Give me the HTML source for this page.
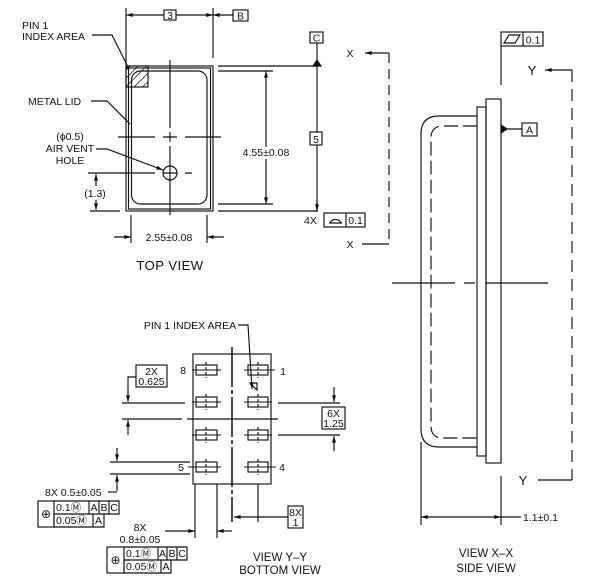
<!DOCTYPE html>
<html><head><meta charset="utf-8"><style>
html,body{margin:0;padding:0;background:#fff;}
svg{display:block;}
text{font-family:"Liberation Sans",sans-serif;font-size:10.5px;fill:#111;}
</style></head><body>
<svg width="606" height="582" viewBox="0 0 606 582" xmlns="http://www.w3.org/2000/svg">
<defs>
<marker id="a" viewBox="0 0 10 6" refX="10" refY="3" markerWidth="8" markerHeight="4" orient="auto-start-reverse" markerUnits="userSpaceOnUse"><path d="M0,0L10,3L0,6z" fill="#111"/></marker>
<pattern id="h" width="6" height="6" patternUnits="userSpaceOnUse" patternTransform="rotate(45)"><line x1="0" y1="0" x2="0" y2="6" stroke="#111" stroke-width="1.4"/></pattern>
</defs>
<g stroke="#111" stroke-width="1.15" fill="none">
<!-- TOP VIEW -->
<rect x="126" y="66" width="87" height="145"/>
<rect x="128.5" y="68" width="82" height="141"/>
<rect x="131.5" y="71" width="75.5" height="133" rx="9"/>
<rect x="126" y="66" width="22" height="21" fill="url(#h)"/>
<path d="M118 137H155M163 137H177M185 137H221"/>
<path d="M170 60V128M170 132V142M170 146V215"/>
<path d="M88 173H155M163 173H177M185 173H192"/>
<circle cx="170" cy="173" r="7"/>
<!-- top dim 3 -->
<path d="M126 8V65M213 8V58"/>
<path d="M126 15H164M176 15H213" marker-start="url(#a)" marker-end="url(#a)"/>
<rect x="164" y="10" width="12" height="10"/>
<path d="M213 15H233" marker-start="url(#a)"/>
<rect x="233" y="10" width="15" height="11"/>
<!-- right dims -->
<path d="M218 66H318M218 71H273M218 204H273M218 211H318"/>
<path d="M266 71V204" marker-start="url(#a)" marker-end="url(#a)"/>
<rect x="310" y="32" width="13" height="11"/>
<path d="M317 43V211"/>
<path d="M313 66L317 60L321 66Z" fill="#111"/>
<path d="M317 200V211" marker-end="url(#a)"/>
<rect x="310" y="132" width="12" height="13" fill="#fff"/>
<rect x="324" y="213" width="41" height="14"/><path d="M346 213V227"/>
<path d="M329 223H342M330 223A6 6 0 0 1 341 223"/>
<!-- X lines -->
<path d="M365 53H389M362 244H389" marker-start="url(#a)"/>
<path d="M389 53V244" stroke-dasharray="10,6"/>
<!-- bottom dim -->
<path d="M131 215V243M207 215V243"/>
<path d="M114 237H131" marker-end="url(#a)"/><path d="M224 237H207" marker-end="url(#a)"/>
<!-- 1.3 -->
<path d="M90 211H120"/>
<path d="M96 186V174" marker-end="url(#a)"/><path d="M96 200V210" marker-end="url(#a)"/>
<!-- leaders -->
<path d="M92 35H112L128 67"/>
<path d="M91 101H107L130 124"/>
<path d="M96 149H107L163 170" marker-end="url(#a)"/>

<!-- BOTTOM VIEW -->
<rect x="193" y="354" width="78" height="130"/>
<path d="M232 347V522" stroke-width="1.5" stroke-dasharray="40,3,4,3"/>
<path d="M122 419H182M187 419H278"/>
<g>
<rect x="196" y="365" width="21" height="10"/><rect x="248" y="365" width="20" height="10"/>
<rect x="196" y="397" width="21" height="10"/><rect x="248" y="397" width="20" height="10"/>
<rect x="196" y="430" width="21" height="10"/><rect x="248" y="430" width="20" height="10"/>
<rect x="196" y="462" width="21" height="10"/><rect x="248" y="462" width="20" height="10"/>
</g>
<path d="M192 370H221M244 370H275M192 402H221M244 402H272M192 435H221M244 435H272M188 467H221M244 467H276" stroke-width="0.9"/>
<path d="M206 362V378M258 362V378M206 394V410M258 394V410M206 427V443M258 427V443M206 459V475M258 459V475" stroke-dasharray="3,2"/>
<!-- pin1 leader -->
<path d="M238 325H248L252 389" marker-end="url(#a)"/>
<path d="M250 383L257 390L257 383Z"/>
<!-- left dims -->
<path d="M122 403H185"/>
<rect x="136" y="365" width="31" height="22"/>
<path d="M136 377H128V402" marker-end="url(#a)"/>
<path d="M128 435V420" marker-end="url(#a)"/>
<!-- right dims -->
<path d="M278 403H340M278 435H340"/>
<path d="M334 387V402" marker-end="url(#a)"/><path d="M334 451V436" marker-end="url(#a)"/>
<rect x="322" y="407" width="23" height="22" fill="#fff"/>
<!-- lower left -->
<path d="M110 462H190M110 474H190"/>
<path d="M117 448V461" marker-end="url(#a)"/><path d="M117 491V475" marker-end="url(#a)"/>
<path d="M108 492H117"/>
<rect x="38" y="501" width="16" height="26"/>
<path d="M54 501H119V514H54M54 514V527H104V514M89 501V514M99 501V514M109 501V514M93 514V527"/>
<!-- bottom dims -->
<path d="M195 484V538M217 484V538M258 484V522"/>
<path d="M165 531H195" marker-end="url(#a)"/><path d="M232 531H217" marker-end="url(#a)"/>
<path d="M258 517H234" marker-end="url(#a)"/><path d="M258 517H288"/>
<rect x="288" y="506" width="15" height="22"/>
<rect x="107" y="547" width="17" height="26"/>
<path d="M124 547H187V560H124M124 560V573H171V560M158 547V560M167 547V560M177 547V560M161 560V573"/>

<!-- SIDE VIEW -->
<rect x="486" y="99" width="15" height="364"/>
<rect x="477" y="107" width="9" height="349"/>
<path d="M477 116H439Q421 116 421 134V429Q421 447 439 447H477"/>
<path d="M477 126H443Q431 126 431 138V426Q431 438 443 438H477" stroke-dasharray="14,5"/>
<path d="M392 283H455M464 283H475M486 283H548"/>
<path d="M501 129H522"/><path d="M501 125L507 129L501 133Z" fill="#111"/>
<rect x="522" y="123" width="15" height="13"/>
<rect x="501" y="32" width="42" height="14"/><path d="M523 32V46"/>
<path d="M504 43L509 35H520L515 43Z"/>
<path d="M501 46V85"/>
<path d="M545 70H572M538 480H572" marker-start="url(#a)"/>
<path d="M572 70V480" stroke-dasharray="12,7"/>
<path d="M421 442V525M501 476V525"/>
<path d="M421 517H501" marker-start="url(#a)" marker-end="url(#a)"/>
<path d="M501 517H521"/>
</g>
<g fill="#111" stroke="none">
<circle cx="128" cy="68" r="1.5"/>
</g>

<!-- TEXT -->
<text x="22" y="29">PIN 1</text>
<text x="22" y="40">INDEX AREA</text>
<text x="28" y="105">METAL LID</text>
<text x="70" y="140" text-anchor="middle">(ϕ0.5)</text>
<text x="70" y="152" text-anchor="middle">AIR VENT</text>
<text x="70" y="164" text-anchor="middle">HOLE</text>
<text x="95" y="197" text-anchor="middle">(1.3)</text>
<text x="170" y="19" text-anchor="middle">3</text>
<text x="240.5" y="19.5" text-anchor="middle">B</text>
<text x="316.5" y="41.5" text-anchor="middle">C</text>
<text x="316" y="143" text-anchor="middle">5</text>
<text x="266" y="156" text-anchor="middle" style="paint-order:stroke;stroke:#fff;stroke-width:6px">4.55±0.08</text>
<text x="169" y="241" text-anchor="middle">2.55±0.08</text>
<text x="304" y="224">4X</text>
<text x="355.5" y="224" text-anchor="middle">0.1</text>
<text x="350" y="57" text-anchor="middle">X</text>
<text x="350" y="248" text-anchor="middle">X</text>
<text x="170" y="270" text-anchor="middle" style="font-size:13px;letter-spacing:0.5px">TOP  VIEW</text>

<text x="190" y="329" text-anchor="middle">PIN 1 INDEX AREA</text>
<text x="183" y="374" text-anchor="middle">8</text>
<text x="283" y="375" text-anchor="middle">1</text>
<text x="181" y="471" text-anchor="middle">5</text>
<text x="282" y="471" text-anchor="middle">4</text>
<text x="151.5" y="375" text-anchor="middle">2X</text>
<text x="151.5" y="385" text-anchor="middle">0.625</text>
<text x="333.5" y="417" text-anchor="middle">6X</text>
<text x="333.5" y="427" text-anchor="middle">1.25</text>
<text x="295.5" y="516" text-anchor="middle">8X</text>
<text x="295.5" y="526" text-anchor="middle">1</text>
<text x="45" y="496">8X  0.5±0.05</text>
<text x="46" y="518" text-anchor="middle" style="font-size:12px">⊕</text>
<text x="56" y="511">0.1Ⓜ</text><text x="94" y="511" text-anchor="middle">A</text><text x="104" y="511" text-anchor="middle">B</text><text x="114" y="511" text-anchor="middle">C</text>
<text x="56" y="524">0.05Ⓜ</text><text x="98.5" y="524" text-anchor="middle">A</text>
<text x="140" y="531" text-anchor="middle">8X</text>
<text x="140" y="543" text-anchor="middle">0.8±0.05</text>
<text x="115.5" y="564" text-anchor="middle" style="font-size:12px">⊕</text>
<text x="126" y="557">0.1Ⓜ</text><text x="162.5" y="557" text-anchor="middle">A</text><text x="172" y="557" text-anchor="middle">B</text><text x="182" y="557" text-anchor="middle">C</text>
<text x="126" y="570">0.05Ⓜ</text><text x="166" y="570" text-anchor="middle">A</text>
<text x="280" y="561" text-anchor="middle" style="font-size:11.5px">VIEW  Y–Y</text>
<text x="280" y="574" text-anchor="middle" style="font-size:11.5px">BOTTOM  VIEW</text>

<text x="533" y="43.5" text-anchor="middle">0.1</text>
<text x="529.5" y="133.5" text-anchor="middle">A</text>
<text x="532" y="75" text-anchor="middle" style="font-size:13px">Y</text>
<text x="523" y="485" text-anchor="middle" style="font-size:13px">Y</text>
<text x="523" y="521">1.1±0.1</text>
<text x="486" y="557" text-anchor="middle" style="font-size:11.5px">VIEW  X–X</text>
<text x="486" y="572" text-anchor="middle" style="font-size:11.5px">SIDE  VIEW</text>
</svg>
</body></html>
